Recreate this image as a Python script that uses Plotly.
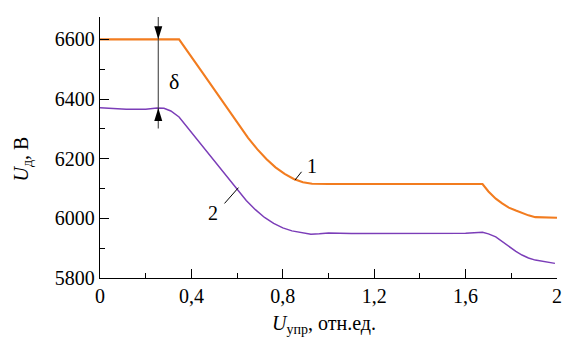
import numpy as np
import plotly.graph_objects as go

# Control voltage, relative units
x1 = [0, 0.346, 0.447, 0.55, 0.608, 0.648, 0.688, 0.728, 0.768, 0.808, 0.848,
      0.888, 0.928, 1.0, 1.2, 1.4, 1.6, 1.674, 1.70, 1.732, 1.76, 1.789, 1.82,
      1.847, 1.875, 1.905, 1.95, 2.0]
# Curve 1, V
u1 = [6600, 6600, 6490, 6377, 6312, 6270, 6232, 6199, 6171, 6149, 6132,
      6121, 6116, 6115, 6115, 6115, 6115, 6115, 6090, 6066, 6050, 6036, 6026,
      6018, 6010, 6004, 6002, 6002]

x2 = [0, 0.05, 0.115, 0.2, 0.25, 0.28, 0.31, 0.346, 0.40, 0.447, 0.50, 0.55,
      0.60, 0.64, 0.68, 0.72, 0.76, 0.80, 0.84, 0.88, 0.923, 0.96, 1.0, 1.1,
      1.3, 1.5, 1.6, 1.674, 1.70, 1.732, 1.76, 1.789, 1.82, 1.847, 1.875,
      1.905, 1.95, 1.991]
# Curve 2, V
u2 = [6371, 6368, 6366, 6366, 6370, 6369, 6360, 6340, 6288, 6243, 6192, 6144,
      6096, 6060, 6029, 6003, 5983, 5968, 5958, 5952, 5947, 5948, 5951, 5949,
      5949, 5949, 5950, 5953, 5948, 5938, 5922, 5904, 5889, 5877, 5867,
      5860, 5853, 5849]

x_ticks = [0, 0.4, 0.8, 1.2, 1.6, 2.0]
x_ticktext = ["0", "0,4", "0,8", "1,2", "1,6", "2"]
x_minor = [0.2, 0.6, 1.0, 1.4, 1.8]
y_ticks = [5800, 6000, 6200, 6400, 6600]
y_ticktext = ["5800", "6000", "6200", "6400", "6600"]
y_minor = [5900, 6100, 6300, 6500]

delta_x = 0.255
FONT = "Liberation Serif"
ORANGE = "#F27C1F"
PURPLE = "#7B3DB8"

fig = go.Figure()
fig.add_trace(go.Scatter(x=x1, y=u1, mode="lines",
                         line=dict(color=ORANGE, width=2.1), hoverinfo="skip"))
fig.add_trace(go.Scatter(x=x2, y=u2, mode="lines",
                         line=dict(color=PURPLE, width=1.5), hoverinfo="skip"))

# delta marker between the two levels
top_level = float(np.interp(delta_x, x1, u1))
bot_level = float(np.interp(delta_x, x2, u2))
fig.add_shape(type="line", x0=delta_x, x1=delta_x, y0=6301, y1=6675,
              line=dict(color="#444444", width=1.1), layer="above")
fig.add_shape(type="path", xref="x", yref="y", xsizemode="pixel", ysizemode="pixel",
              xanchor=delta_x, yanchor=top_level,
              path="M0,0 L-4,13 L4,13 Z", fillcolor="black", line=dict(width=0))
fig.add_shape(type="path", xref="x", yref="y", xsizemode="pixel", ysizemode="pixel",
              xanchor=delta_x, yanchor=bot_level,
              path="M0,0 L-4,-13 L4,-13 Z", fillcolor="black", line=dict(width=0))
fig.add_annotation(x=0.322, y=6460, text="δ", showarrow=False,
                   font=dict(family=FONT, size=22, color="black"))

# curve labels with leader lines
fig.add_shape(type="line", x0=0.853, y0=6128, x1=0.882, y1=6156,
              line=dict(color="black", width=1))
fig.add_annotation(x=0.928, y=6177, text="1", showarrow=False,
                   font=dict(family=FONT, size=20, color="black"))
fig.add_shape(type="line", x0=0.606, y0=6103, x1=0.545, y1=6050,
              line=dict(color="black", width=1))
fig.add_annotation(x=0.494, y=6017, text="2", showarrow=False,
                   font=dict(family=FONT, size=20, color="black"))

# axis titles
fig.add_annotation(xref="paper", yref="paper", x=0.49, y=-0.18, yanchor="middle",
                   text="<i>U</i><sub>упр</sub>, отн.ед.", showarrow=False,
                   font=dict(family=FONT, size=20, color="black"))
fig.add_annotation(xref="paper", yref="paper", x=-0.17, y=0.455, xanchor="center",
                   text="<i>U</i><sub>д</sub>, В", showarrow=False, textangle=-90,
                   font=dict(family=FONT, size=20, color="black"))

axis_common = dict(showline=True, linecolor="black", linewidth=1.3, mirror=False,
                   showgrid=False, zeroline=False, ticks="inside", ticklen=9,
                   tickwidth=1.2, tickcolor="black", ticklabeloverflow="allow",
                   tickfont=dict(family=FONT, size=20, color="black"))
fig.update_xaxes(range=[0, 2], tickmode="array", tickvals=x_ticks, ticktext=x_ticktext,
                 minor=dict(tickmode="array", tickvals=x_minor, ticks="inside",
                            ticklen=5, tickwidth=1.2, tickcolor="black"),
                 **axis_common)
fig.update_yaxes(range=[5800, 6675], tickmode="array", tickvals=y_ticks, ticktext=y_ticktext,
                 minor=dict(tickmode="array", tickvals=y_minor, ticks="inside",
                            ticklen=5, tickwidth=1.2, tickcolor="black"),
                 **axis_common)

fig.update_layout(width=565, height=338, margin=dict(l=100, r=3, t=17, b=60),
                  font=dict(family=FONT, size=20, color="black"),
                  plot_bgcolor="white", paper_bgcolor="white", showlegend=False)

fig.write_html("out.html")
